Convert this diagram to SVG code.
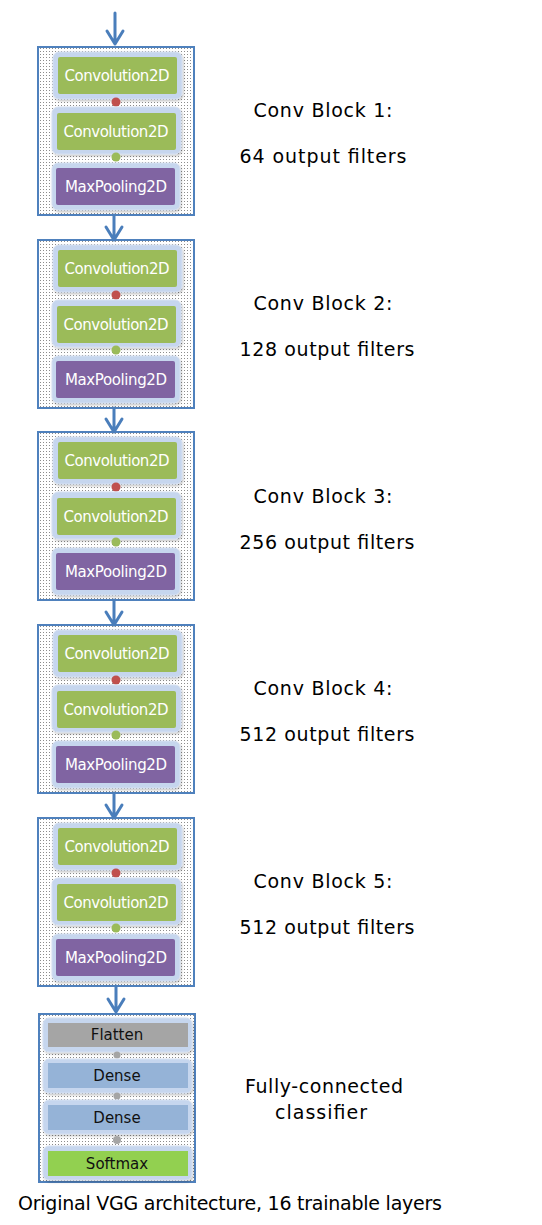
<svg xmlns="http://www.w3.org/2000/svg" width="542" height="1225" viewBox="0 0 542 1225">
<defs>
<pattern id="dots" width="3" height="3" patternUnits="userSpaceOnUse"><rect width="3" height="3" fill="#ffffff"/><rect x="1" y="1" width="1" height="1" fill="#8c8c8c"/></pattern>
<filter id="sh" x="-10%" y="-10%" width="120%" height="130%"><feDropShadow dx="1" dy="1.5" stdDeviation="1" flood-color="#000" flood-opacity="0.25"/></filter>
</defs>
<style>
.box{fill:url(#dots);stroke:#4f81bd;stroke-width:2}
.halo{fill:#c6d6ee;stroke:#d6e1f2;stroke-width:1;filter:url(#sh)}
.conv{fill:#9bbb59}
.pool{fill:#8064a2}
.flat{fill:#a5a5a5}
.dense{fill:#95b3d7}
.soft{fill:#92d050}
.nt{font-family:"DejaVu Sans","Verdana",sans-serif;font-size:15px;fill:#ffffff;text-anchor:middle}
.dt{font-family:"DejaVu Sans","Verdana",sans-serif;font-size:15px;fill:#111111;text-anchor:middle}
.lab{font-family:"DejaVu Sans","Verdana",sans-serif;font-size:19px;fill:#000;text-anchor:middle}
.arr{stroke:#4a7ebb;stroke-width:3;fill:none;stroke-linecap:round;stroke-linejoin:round}
.rd{fill:#c0504d}
.gd{fill:#9bbb59}
.yd{fill:#a5a5a5}
</style>

<g id="block1" transform="translate(0,47)">
<rect class="box" x="38" y="0" width="156" height="168"/>
<g id="b1-conv1"><rect class="halo" x="53" y="5" width="129" height="47" rx="6"/><rect class="conv" x="58" y="10" width="119" height="37" rx="2"/><text class="nt" x="117" y="34" textLength="105">Convolution2D</text></g>
<circle class="rd" cx="116" cy="55" r="4.5"/>
<g id="b1-conv2"><rect class="halo" x="52" y="60" width="129" height="47" rx="6"/><rect class="conv" x="57" y="66" width="119" height="37" rx="2"/><text class="nt" x="116" y="90" textLength="105">Convolution2D</text></g>
<circle class="gd" cx="116" cy="110" r="4.5"/>
<g id="b1-pool"><rect class="halo" x="52" y="116" width="128" height="47" rx="6"/><rect class="pool" x="56" y="121" width="119" height="37" rx="2"/><text class="nt" x="116" y="145" textLength="102">MaxPooling2D</text></g>
</g>

<g id="block2" transform="translate(0,240)">
<rect class="box" x="38" y="0" width="156" height="168"/>
<g id="b2-conv1"><rect class="halo" x="53" y="5" width="129" height="47" rx="6"/><rect class="conv" x="58" y="10" width="119" height="37" rx="2"/><text class="nt" x="117" y="34" textLength="105">Convolution2D</text></g>
<circle class="rd" cx="116" cy="55" r="4.5"/>
<g id="b2-conv2"><rect class="halo" x="52" y="60" width="129" height="47" rx="6"/><rect class="conv" x="57" y="66" width="119" height="37" rx="2"/><text class="nt" x="116" y="90" textLength="105">Convolution2D</text></g>
<circle class="gd" cx="116" cy="110" r="4.5"/>
<g id="b2-pool"><rect class="halo" x="52" y="116" width="128" height="47" rx="6"/><rect class="pool" x="56" y="121" width="119" height="37" rx="2"/><text class="nt" x="116" y="145" textLength="102">MaxPooling2D</text></g>
</g>

<g id="block3" transform="translate(0,432)">
<rect class="box" x="38" y="0" width="156" height="168"/>
<g id="b3-conv1"><rect class="halo" x="53" y="5" width="129" height="47" rx="6"/><rect class="conv" x="58" y="10" width="119" height="37" rx="2"/><text class="nt" x="117" y="34" textLength="105">Convolution2D</text></g>
<circle class="rd" cx="116" cy="55" r="4.5"/>
<g id="b3-conv2"><rect class="halo" x="52" y="60" width="129" height="47" rx="6"/><rect class="conv" x="57" y="66" width="119" height="37" rx="2"/><text class="nt" x="116" y="90" textLength="105">Convolution2D</text></g>
<circle class="gd" cx="116" cy="110" r="4.5"/>
<g id="b3-pool"><rect class="halo" x="52" y="116" width="128" height="47" rx="6"/><rect class="pool" x="56" y="121" width="119" height="37" rx="2"/><text class="nt" x="116" y="145" textLength="102">MaxPooling2D</text></g>
</g>

<g id="block4" transform="translate(0,625)">
<rect class="box" x="38" y="0" width="156" height="168"/>
<g id="b4-conv1"><rect class="halo" x="53" y="5" width="129" height="47" rx="6"/><rect class="conv" x="58" y="10" width="119" height="37" rx="2"/><text class="nt" x="117" y="34" textLength="105">Convolution2D</text></g>
<circle class="rd" cx="116" cy="55" r="4.5"/>
<g id="b4-conv2"><rect class="halo" x="52" y="60" width="129" height="47" rx="6"/><rect class="conv" x="57" y="66" width="119" height="37" rx="2"/><text class="nt" x="116" y="90" textLength="105">Convolution2D</text></g>
<circle class="gd" cx="116" cy="110" r="4.5"/>
<g id="b4-pool"><rect class="halo" x="52" y="116" width="128" height="47" rx="6"/><rect class="pool" x="56" y="121" width="119" height="37" rx="2"/><text class="nt" x="116" y="145" textLength="102">MaxPooling2D</text></g>
</g>

<g id="block5" transform="translate(0,818)">
<rect class="box" x="38" y="0" width="156" height="168"/>
<g id="b5-conv1"><rect class="halo" x="53" y="5" width="129" height="47" rx="6"/><rect class="conv" x="58" y="10" width="119" height="37" rx="2"/><text class="nt" x="117" y="34" textLength="105">Convolution2D</text></g>
<circle class="rd" cx="116" cy="55" r="4.5"/>
<g id="b5-conv2"><rect class="halo" x="52" y="60" width="129" height="47" rx="6"/><rect class="conv" x="57" y="66" width="119" height="37" rx="2"/><text class="nt" x="116" y="90" textLength="105">Convolution2D</text></g>
<circle class="gd" cx="116" cy="110" r="4.5"/>
<g id="b5-pool"><rect class="halo" x="52" y="116" width="128" height="47" rx="6"/><rect class="pool" x="56" y="121" width="119" height="37" rx="2"/><text class="nt" x="116" y="145" textLength="102">MaxPooling2D</text></g>
</g>

<g id="classifier">
<rect class="box" x="39" y="1014" width="156" height="168"/>
<g id="flatten"><rect class="halo" x="43" y="1018" width="149" height="34" rx="6"/><rect class="flat" x="48" y="1023" width="140" height="24"/><text class="dt" x="117" y="1040">Flatten</text></g>
<circle class="yd" cx="117" cy="1055" r="3.5"/>
<g id="dense1"><rect class="halo" x="43" y="1059" width="149" height="34" rx="6"/><rect class="dense" x="48" y="1063" width="140" height="25"/><text class="dt" x="117" y="1081">Dense</text></g>
<circle class="yd" cx="117" cy="1096" r="3.5"/>
<g id="dense2"><rect class="halo" x="43" y="1100" width="149" height="34" rx="6"/><rect class="dense" x="48" y="1105" width="140" height="25"/><text class="dt" x="117" y="1123">Dense</text></g>
<circle class="yd" cx="117" cy="1140" r="4"/>
<g id="softmax"><rect class="halo" x="43" y="1146" width="149" height="34" rx="6"/><rect class="soft" x="48" y="1151" width="140" height="25"/><text class="dt" x="117" y="1169">Softmax</text></g>
</g>

<g id="connectors">
<path class="arr" d="M115 13 V44 M107 31 L115 44 L123 31"/>
<path class="arr" d="M114 215 V240 M106 227 L114 240 L122 227"/>
<path class="arr" d="M114 408 V432 M106 419 L114 432 L122 419"/>
<path class="arr" d="M114 600 V625 M106 612 L114 625 L122 612"/>
<path class="arr" d="M114 793 V818 M106 805 L114 818 L122 805"/>
<path class="arr" d="M116 986 V1012 M108 999 L116 1012 L124 999"/>
</g>

<g id="labels">
<text class="lab" x="323" y="117" textLength="139">Conv Block 1:</text>
<text class="lab" x="323" y="163" textLength="167">64 output filters</text>
<text class="lab" x="323" y="310" textLength="139">Conv Block 2:</text>
<text class="lab" x="327" y="356" textLength="175">128 output filters</text>
<text class="lab" x="323" y="503" textLength="139">Conv Block 3:</text>
<text class="lab" x="327" y="549" textLength="175">256 output filters</text>
<text class="lab" x="323" y="695" textLength="139">Conv Block 4:</text>
<text class="lab" x="327" y="741" textLength="175">512 output filters</text>
<text class="lab" x="323" y="888" textLength="139">Conv Block 5:</text>
<text class="lab" x="327" y="934" textLength="175">512 output filters</text>
<text class="lab" x="324" y="1093" textLength="158">Fully-connected</text>
<text class="lab" x="321" y="1119" textLength="92">classifier</text>
<text class="lab" x="230" y="1210" font-size="17" textLength="424">Original VGG architecture, 16 trainable layers</text>
</g>
</svg>
